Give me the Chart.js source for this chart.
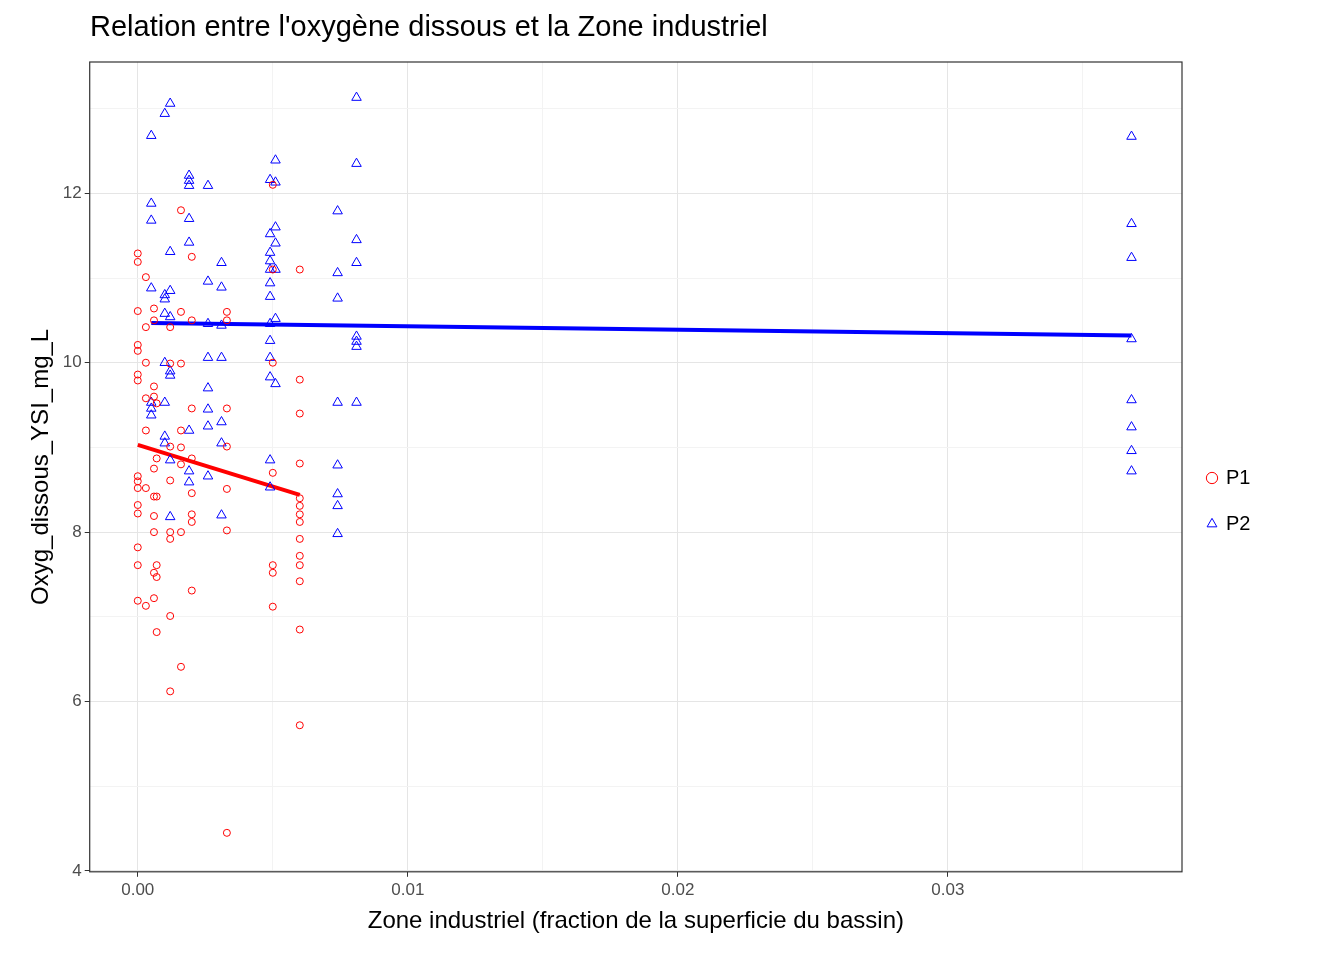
<!DOCTYPE html>
<html>
<head>
<meta charset="utf-8">
<script src="https://cdn.jsdelivr.net/npm/chart.js@4"></script>
<style>
  body { margin: 0; background: #fff; }
  #wrap { width: 1344px; height: 960px; position: relative; }
  #title { position: absolute; left: 90px; top: 10px; font-family: 'Liberation Sans', Arial, sans-serif;
           font-size: 29px; color: #000; }
</style>
</head>
<body>
<div id="wrap"><div id="title">Relation entre l'oxygène dissous et la Zone industriel</div><canvas id="oxyChart"></canvas></div>
<script>
// x = zone industrielle, one array of y values per x group
const p1Groups = [
  [0, [11.29, 11.19, 10.61, 10.21, 10.14, 9.86, 9.79, 8.66, 8.6, 8.52, 8.32, 8.22, 7.82, 7.61, 7.19]],
  [0.0003, [11.01, 10.42, 10.0, 9.58, 9.2, 8.52, 7.13]],
  [0.0006, [10.64, 10.5, 9.72, 9.6, 8.75, 8.42, 8.19, 8.0, 7.52, 7.22]],
  [0.0007, [9.52, 8.87, 8.42, 7.61, 7.47, 6.82]],
  [0.0012, [9.99, 10.42, 9.01, 8.61, 8.0, 7.92, 7.01, 6.12]],
  [0.0016, [11.8, 10.6, 9.99, 9.2, 9.0, 8.8, 8.0, 6.41]],
  [0.002, [11.25, 10.5, 9.46, 8.87, 8.46, 8.21, 8.12, 7.31]],
  [0.0033, [10.6, 10.5, 9.46, 9.01, 8.51, 8.02, 4.45]],
  [0.005, [12.1, 11.1, 10.0, 8.7, 7.61, 7.52, 7.12]],
  [0.006, [11.1, 9.8, 9.4, 8.81, 8.4, 8.31, 8.21, 8.12, 7.92, 7.72, 7.61, 7.42, 6.85, 5.72]]
];
const p2Groups = [
  [0.0005, [12.68, 11.88, 11.68, 10.88, 9.53, 9.46, 9.38]],
  [0.001, [12.94, 10.8, 10.75, 10.58, 10.0, 9.53, 9.13, 9.05]],
  [0.0012, [13.06, 11.31, 10.85, 10.54, 9.9, 9.85, 8.85, 8.18]],
  [0.0019, [12.21, 12.15, 12.09, 11.7, 11.42, 9.2, 8.72, 8.59]],
  [0.0026, [12.09, 10.96, 10.46, 10.06, 9.7, 9.45, 9.25, 8.66]],
  [0.0031, [11.18, 10.89, 10.44, 10.06, 9.3, 9.05, 8.2]],
  [0.0049, [12.16, 11.52, 11.3, 11.2, 11.1, 10.94, 10.78, 10.46, 10.26, 10.06, 9.83, 8.85, 8.53]],
  [0.0051, [12.39, 12.13, 11.6, 11.41, 11.1, 10.52, 9.75]],
  [0.0074, [11.79, 11.06, 10.76, 9.53, 8.79, 8.45, 8.31, 7.98]],
  [0.0081, [13.13, 12.35, 11.45, 11.18, 10.31, 10.25, 10.19, 9.53]],
  [0.0368, [12.67, 11.64, 11.24, 10.28, 9.56, 9.24, 8.96, 8.72]]
];
// fitted lines (end points)
const p1Fit = [[0, 9.03], [0.006, 8.44]];
const p2Fit = [[0.0005, 10.47], [0.0368, 10.32]];
const yTicks = [4, 6, 8, 10, 12];
const xTicks = [0, 0.01, 0.02, 0.03];

const toPts = groups => groups.flatMap(([x, ys]) => ys.map(y => ({x: x, y: y})));
const fitPts = f => f.map(([x, y]) => ({x: x, y: y}));
const isMajorX = v => xTicks.some(t => Math.abs(t - v) < 1e-9);

const panelBorder = {
  id: 'panelBorder',
  afterDraw(chart) {
    const {ctx, chartArea: a} = chart;
    ctx.save();
    ctx.strokeStyle = '#333';
    ctx.lineWidth = 1.2;
    ctx.strokeRect(a.left, a.top, a.right - a.left, a.bottom - a.top);
    ctx.restore();
  }
};

// fixed legend width so the panel ends where the reference does
const legendWidth = {
  id: 'legendWidth',
  afterInit(chart) {
    const lg = chart.legend;
    const fit = lg.fit;
    lg.fit = function () { fit.call(this); this.width = 162; };
  }
};

new Chart(document.getElementById('oxyChart'), {
  type: 'scatter',
  data: {
    datasets: [
      { label: 'P1', data: toPts(p1Groups), pointStyle: 'circle', radius: 3.5,
        borderColor: '#ff0000', backgroundColor: 'rgba(0,0,0,0)', borderWidth: 1 },
      { label: 'P2', data: toPts(p2Groups), pointStyle: 'triangle', radius: 5.5,
        borderColor: '#0000ff', backgroundColor: 'rgba(0,0,0,0)', borderWidth: 1 },
      { label: 'fit1', data: fitPts(p1Fit), showLine: true, pointRadius: 0,
        borderColor: '#ff0000', borderWidth: 4 },
      { label: 'fit2', data: fitPts(p2Fit), showLine: true, pointRadius: 0,
        borderColor: '#0000ff', borderWidth: 4 }
    ]
  },
  options: {
    responsive: true,
    maintainAspectRatio: false,
    animation: false,
    layout: { padding: { left: 23, right: 0, top: 62, bottom: 20 } },
    scales: {
      x: {
        type: 'linear', min: -0.00178, max: 0.03867,
        afterBuildTicks: ax => { ax.ticks = [0, 0.005, 0.01, 0.015, 0.02, 0.025, 0.03, 0.035].map(v => ({value: v})); },
        ticks: {
          color: '#4d4d4d', font: { family: 'Liberation Sans, Arial', size: 17 },
          callback: v => isMajorX(v) ? v.toFixed(2) : ''
        },
        grid: {
          color: ctx => (ctx.tick && isMajorX(ctx.tick.value)) ? '#e5e5e5' : '#f3f3f3',
          tickColor: ctx => (ctx.tick && isMajorX(ctx.tick.value)) ? '#333' : 'rgba(0,0,0,0)',
          tickLength: 5
        },
        border: { display: false },
        title: { display: true, text: 'Zone industriel (fraction de la superficie du bassin)',
          color: '#000', font: { family: 'Liberation Sans, Arial', size: 24 }, padding: { top: 4 } }
      },
      y: {
        min: 3.99, max: 13.55,
        afterBuildTicks: ax => { ax.ticks = [4, 5, 6, 7, 8, 9, 10, 11, 12, 13].map(v => ({value: v})); },
        ticks: {
          color: '#4d4d4d', font: { family: 'Liberation Sans, Arial', size: 17 },
          callback: v => yTicks.includes(v) ? String(v) : ''
        },
        grid: {
          color: ctx => (ctx.tick && yTicks.includes(ctx.tick.value)) ? '#e5e5e5' : '#f3f3f3',
          tickColor: ctx => (ctx.tick && yTicks.includes(ctx.tick.value)) ? '#333' : 'rgba(0,0,0,0)',
          tickLength: 5
        },
        border: { display: false },
        title: { display: true, text: 'Oxyg_dissous_YSI_mg_L',
          color: '#000', font: { family: 'Liberation Sans, Arial', size: 24 } }
      }
    },
    plugins: {
      title: { display: false },
      legend: {
        position: 'right',
        labels: {
          usePointStyle: true, boxWidth: 8, boxHeight: 8, padding: 26, color: '#000',
          font: { family: 'Liberation Sans, Arial', size: 20 },
          filter: item => item.text === 'P1' || item.text === 'P2'
        }
      },
      tooltip: { enabled: false }
    }
  },
  plugins: [panelBorder, legendWidth]
});
</script>
</body>
</html>
